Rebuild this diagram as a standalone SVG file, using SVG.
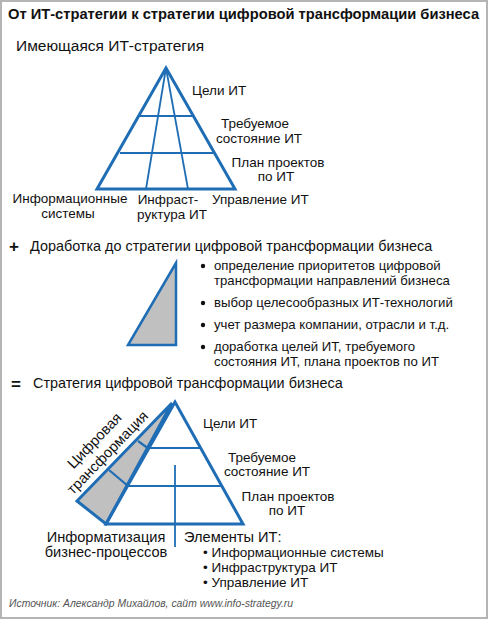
<svg xmlns="http://www.w3.org/2000/svg" width="488" height="619" viewBox="0 0 488 619">
<style>
text{font-family:"Liberation Sans",Arial,sans-serif;fill:#111;}
.t{font-size:14.7px;font-weight:bold;}
.h{font-size:14.6px;}
.l{font-size:13.5px;}
.b{font-size:13.2px;}
.m{text-anchor:middle;}
.o{fill:none;stroke:#1f6db5;stroke-width:3;stroke-linejoin:miter;}
.i{fill:none;stroke:#1f6db5;stroke-width:1.8;}
.g{fill:#c0c0c0;stroke:#1f6db5;stroke-width:3;stroke-linejoin:miter;}
.f{font-size:10.4px;font-style:italic;fill:#555;}
</style>
<rect x="1" y="1" width="486" height="617" fill="#fff" stroke="#b4b4b4" stroke-width="2"/>
<text class="t" x="8" y="19">От ИТ-стратегии к стратегии цифровой трансформации бизнеса</text>
<text class="h" x="16" y="51" style="font-size:15.5px">Имеющаяся ИТ-стратегия</text>

<g id="pyramid1">
<line class="i" x1="166" y1="68" x2="146" y2="189"/>
<line class="i" x1="166" y1="68" x2="188" y2="189"/>
<line class="i" x1="138" y1="116" x2="194" y2="116"/>
<line class="i" x1="120" y1="153" x2="213" y2="153"/>
<polygon class="o" points="166,68 97,189 235,189"/>
</g>
<g id="labels1">
<text class="l" x="192" y="95">Цели ИТ</text>
<text class="l m" x="255" y="128">Требуемое</text>
<text class="l m" x="259" y="143">состояние ИТ</text>
<text class="l m" x="278" y="167">План проектов</text>
<text class="l m" x="276" y="181">по ИТ</text>
<text class="l m" x="70" y="203">Информационные</text>
<text class="l m" x="68" y="218">системы</text>
<text class="l m" x="168" y="204">Инфраст-</text>
<text class="l m" x="172" y="219">руктура ИТ</text>
<text class="l" x="212" y="204">Управление ИТ</text>
</g>

<text x="9" y="252" style="font-size:17px;font-weight:bold">+</text>
<text class="h" x="30" y="251" style="font-size:14.4px">Доработка до стратегии цифровой трансформации бизнеса</text>

<g id="triangle2">
<polygon class="g" style="stroke-width:2.5" points="176,263 128,345 176,345"/>
</g>
<g id="list2">
<circle cx="203" cy="266" r="2.2" fill="#111"/>
<text class="b" x="214" y="270">определение приоритетов  цифровой</text>
<text class="b" x="214" y="285">трансформации направлений бизнеса</text>
<circle cx="203" cy="303" r="2.2" fill="#111"/>
<text class="b" x="214" y="307">выбор целесообразных ИТ-технологий</text>
<circle cx="203" cy="325" r="2.2" fill="#111"/>
<text class="b" x="214" y="329">учет размера компании, отрасли и т.д.</text>
<circle cx="203" cy="347" r="2.2" fill="#111"/>
<text class="b" x="214" y="351">доработка целей ИТ, требуемого</text>
<text class="b" x="214" y="366">состояния ИТ, плана проектов по ИТ</text>
</g>

<text x="11" y="390" style="font-size:17px;font-weight:bold">=</text>
<text class="h" x="33" y="388" style="font-size:14.4px">Стратегия цифровой трансформации бизнеса</text>

<g id="pyramid3">
<polygon class="g" points="172,403 77,501 106,524"/>
<line class="i" x1="175" y1="465" x2="175" y2="547"/>
<line class="i" x1="148" y1="448" x2="201" y2="448"/>
<line class="i" x1="127" y1="486" x2="222" y2="486"/>
<line class="o" style="stroke-width:2.2" x1="138" y1="441" x2="149" y2="449"/>
<line class="o" style="stroke-width:2.2" x1="109" y1="470" x2="128" y2="486"/>
<polygon class="o" points="175,402 106,524 243,524"/>
</g>
<g id="labels3">
<text class="h m" transform="translate(98,444) rotate(-46)">Цифровая</text>
<text class="h m" transform="translate(111,456) rotate(-46)">трансформация</text>
<text class="l" x="203" y="428">Цели ИТ</text>
<text class="l m" x="262" y="462">Требуемое</text>
<text class="l m" x="267" y="476">состояние ИТ</text>
<text class="l m" x="288" y="501">План проектов</text>
<text class="l m" x="287" y="515">по ИТ</text>
<text class="h m" x="106" y="542">Информатизация</text>
<text class="h m" x="106" y="557">бизнес-процессов</text>
<text class="h" x="184" y="542">Элементы ИТ:</text>
<text class="l" x="203" y="557">• Информационные системы</text>
<text class="l" x="203" y="572">• Инфраструктура ИТ</text>
<text class="l" x="203" y="587">• Управление ИТ</text>
</g>

<text class="f" x="9" y="607">Источник: Александр Михайлов, сайт www.info-strategy.ru</text>
</svg>
